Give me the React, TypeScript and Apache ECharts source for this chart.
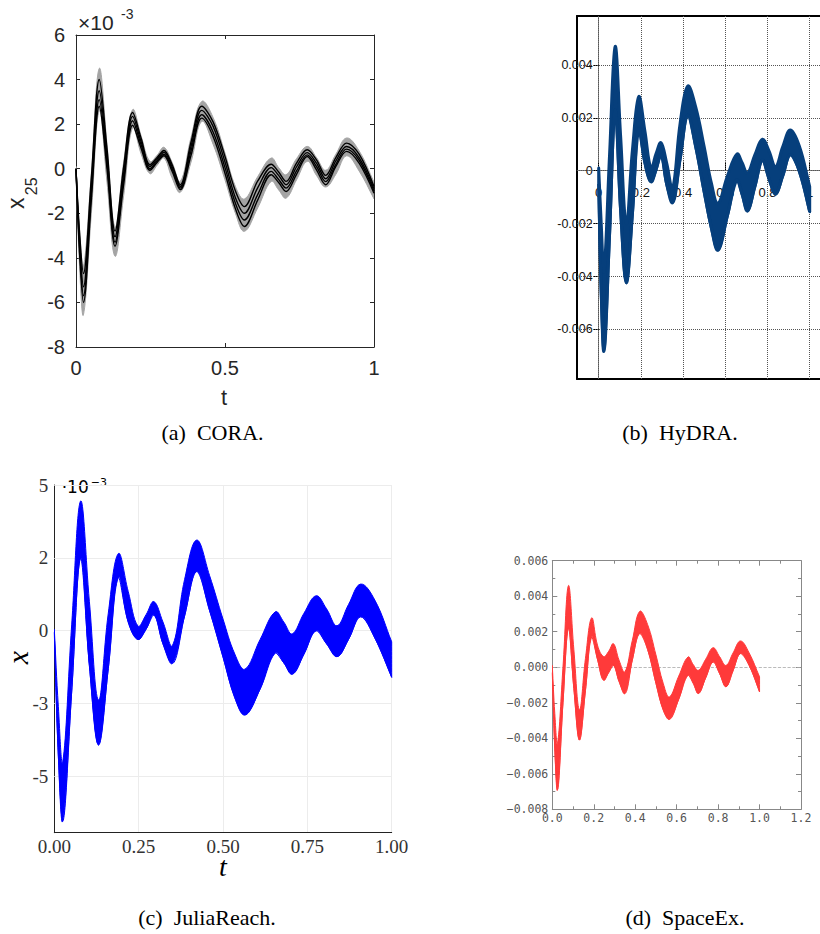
import React, { useEffect, useRef } from "react";
import * as echarts from "echarts";

// time knots shared by the four reach-set plots
const tKnots = [0, 0.012, 0.025, 0.0515, 0.078, 0.104, 0.131, 0.16, 0.19, 0.219, 0.248, 0.272, 0.295, 0.322, 0.35, 0.386, 0.422, 0.46, 0.5, 0.535, 0.565, 0.61, 0.655, 0.68, 0.705, 0.74, 0.776, 0.807, 0.838, 0.872, 0.908, 0.95, 1.0];

// (a) CORA  (values in units of 1e-3)
const coraGrayUpper = [0.1, -2.7, -4.4, -0.2, 4.5, 1.1, -2.6, 0.3, 2.65, 1.45, 0.33, 0.6, 0.96, 0.3, -0.57, 1.4, 3.02, 2.3, 0.7, -0.8, -1.36, -0.35, 0.48, 0.05, -0.27, 0.45, 1.0, 0.5, -0.07, 0.65, 1.38, 0.8, -0.6];
const coraGrayLower = [-0.1, -4.4, -6.55, -2.0, 2.6, -0.6, -3.93, -1.2, 1.85, 0.65, -0.22, 0.15, 0.48, -0.4, -1.06, 0.3, 2.12, 1.1, -0.5, -2.0, -2.81, -1.75, -0.57, -0.95, -1.32, -0.5, 0.33, -0.3, -0.82, -0.25, 0.58, -0.1, -1.35];
const coraTrace1 = [0, -2.9, -4.7, -0.4, 4.0, 0.9, -2.8, 0.1, 2.52, 1.35, 0.18, 0.5, 0.82, 0.2, -0.72, 1.2, 2.8, 2.1, 0.55, -1.0, -1.7, -0.55, 0.2, -0.15, -0.57, 0.25, 0.85, 0.4, -0.3, 0.5, 1.15, 0.65, -0.8];
const coraTrace2 = [0, -3.2, -5.3, -0.8, 3.5, 0.6, -3.05, -0.2, 2.35, 1.2, 0.1, 0.42, 0.74, 0.1, -0.8, 1.0, 2.62, 1.9, 0.3, -1.3, -2.0, -0.85, 0.05, -0.3, -0.72, 0.08, 0.72, 0.25, -0.45, 0.35, 1.0, 0.5, -0.9];
const coraTrace3 = [0, -3.5, -5.7, -1.1, 3.1, 0.3, -3.3, -0.45, 2.15, 1.05, 0.0, 0.35, 0.65, 0.0, -0.87, 0.8, 2.42, 1.65, 0.05, -1.55, -2.3, -1.15, -0.12, -0.48, -0.87, -0.1, 0.62, 0.1, -0.58, 0.2, 0.88, 0.38, -1.0];
const coraTrace4 = [0, -3.8, -6.0, -1.4, 2.8, 0.0, -3.48, -0.7, 1.95, 0.9, -0.07, 0.28, 0.58, -0.1, -0.94, 0.6, 2.27, 1.45, -0.2, -1.8, -2.59, -1.4, -0.27, -0.62, -1.02, -0.25, 0.55, -0.05, -0.72, 0.1, 0.78, 0.25, -1.1];

// (b) HyDRA
const hydraUpper = [0.1, -2.0, -3.8, 0.6, 4.7, 1.3, -2.0, 0.8, 2.8, 1.5, 0.09, 0.65, 1.06, 0.3, -0.67, 1.8, 3.2, 2.4, 0.9, -0.5, -1.24, -0.2, 0.63, 0.3, -0.1, 0.6, 1.19, 0.75, 0.15, 0.9, 1.54, 0.95, -0.6];
const hydraLower = [-0.5, -4.6, -6.8, -2.4, 2.3, -1.5, -4.24, -1.6, 1.6, 0.3, -0.42, 0.05, 0.6, -0.5, -1.2, 0.45, 2.1, 0.9, -0.8, -2.2, -3.0, -1.7, -0.35, -0.9, -1.52, -0.6, 0.4, -0.3, -0.88, -0.2, 0.6, 0.0, -1.55];
const hydraXTicks = [0, 0.2, 0.4, 0.6, 0.8, 1];
const hydraYTicks = [-6, -4, -2, 0, 2, 4];

// (c) JuliaReach
const juliaUpper = [0.05, -2.6, -4.5, 0.2, 4.45, 1.0, -2.38, 0.6, 2.65, 1.35, 0.16, 0.55, 1.0, 0.3, -0.51, 1.75, 3.11, 1.9, 0.4, -0.8, -1.32, -0.3, 0.65, 0.3, -0.11, 0.6, 1.2, 0.75, 0.17, 0.9, 1.6, 1.05, -0.38];
const juliaLower = [-0.05, -4.3, -6.53, -2.1, 2.48, -1.2, -3.92, -1.3, 1.83, 0.3, -0.3, 0.05, 0.54, -0.45, -1.12, 0.5, 2.03, 0.7, -0.9, -2.3, -2.89, -2.0, -0.76, -1.1, -1.49, -0.8, 0.0, -0.45, -0.89, -0.3, 0.48, -0.25, -1.6];
const juliaYTickValues = [-5, -2.5, 0, 2.5, 5];
const juliaYTickLabels = ["-5", "-3", "0", "2", "5"];

// (d) SpaceEx
const spaceexUpper = [0.1, -2.6, -4.3, 0.0, 4.6, 1.0, -2.4, 0.5, 2.78, 1.2, 0.6, 0.9, 1.33, 0.4, -0.26, 1.5, 3.15, 2.4, 0.7, -0.9, -1.67, -0.5, 0.58, 0.15, -0.17, 0.45, 1.1, 0.6, 0.1, 0.8, 1.48, 0.8, -0.54];
const spaceexLower = [-0.3, -4.6, -6.9, -2.0, 2.2, -1.2, -4.1, -1.3, 1.7, 0.4, -0.73, -0.3, 0.1, -0.8, -1.48, 0.4, 1.9, 1.0, -0.9, -2.4, -2.93, -1.8, -0.45, -0.9, -1.48, -0.6, 0.3, -0.35, -1.1, -0.2, 0.77, 0.1, -1.39];

const captions = ["(a)  CORA.", "(b)  HyDRA.", "(c)  JuliaReach.", "(d)  SpaceEx."];

const pts = (v: number[]) => tKnots.map((t, i) => [t, v[i]]);

// filled band between lower and upper, drawn through the axes' scales (api.coord)
function bandFill(id: string, upper: number[], lower: number[], xi: number, yi: number, color: string, strokeW: number) {
  const rows = tKnots.map((t, i) => [t, lower[i], upper[i]]);
  return {
    id,
    type: "custom",
    xAxisIndex: xi,
    yAxisIndex: yi,
    data: rows,
    silent: true,
    clip: true,
    z: 3,
    encode: { x: 0, y: [1, 2] },
    renderItem: (params: any, api: any) => {
      if (params.dataIndex !== 0) return null;
      const top = rows.map((r) => api.coord([r[0], r[2]]));
      const bot = rows.map((r) => api.coord([r[0], r[1]])).reverse();
      const n = top.length;
      const poly = [top[0], ...top, top[n - 1], bot[0], ...bot, bot[n - 1]];
      return {
        type: "polygon",
        shape: { points: poly, smooth: 0.4 },
        style: { fill: color, stroke: color, lineWidth: strokeW, lineJoin: "round" },
      };
    },
  };
}

function edgeLine(id: string, v: number[], xi: number, yi: number, color: string, width: number, extra: any = {}) {
  return {
    id,
    type: "line",
    xAxisIndex: xi,
    yAxisIndex: yi,
    data: pts(v),
    symbol: "none",
    smooth: 0.35,
    silent: true,
    z: 4,
    lineStyle: { color, width },
    itemStyle: { color },
    emphasis: { disabled: true },
    ...extra,
  };
}

const gridMarks = (xs: number[], ys: number[], lineStyle: any) => ({
  silent: true,
  z: 1,
  symbol: ["none", "none"],
  animation: false,
  label: { show: false },
  emphasis: { disabled: true },
  lineStyle,
  data: [...xs.map((v) => ({ xAxis: v })), ...ys.map((v) => ({ yAxis: v }))],
});

const SANS = "Liberation Sans";
const SERIF = "Liberation Serif";
const MATLAB = "#262626";

const coraX = { min: 0, max: 1, interval: 0.5 };
const coraY = { min: -8, max: 6, interval: 2 };
const hydraXRange = { min: -0.1028, max: 1.0488 };
const hydraYRange = { min: -7.875, max: 5.85 };
const juliaXRange = { min: 0, max: 1, interval: 0.25 };
const juliaYRange = { min: -6.93, max: 5 };
const spaceexX = { min: 0, max: 1.2, interval: 0.2 };
const spaceexY = { min: -8, max: 6, interval: 2 };

// grid boxes (layout)
const coraBox = { left: 76, top: 35, width: 298, height: 312 };
const hydraBox = { left: 577, top: 16, width: 243, height: 363 };
const juliaBox = { left: 54.3, top: 485, width: 337.4, height: 347.7 };
const spaceexBox = { left: 552.3, top: 560.7, width: 248.7, height: 248.6 };

// HyDRA axes cross at (0,0) inside the frame
const hydraZeroY = hydraBox.top + (hydraYRange.max / (hydraYRange.max - hydraYRange.min)) * hydraBox.height;
const hydraZeroX = hydraBox.left + (-hydraXRange.min / (hydraXRange.max - hydraXRange.min)) * hydraBox.width;

function frameAxis(gridIndex: number, range: any, position: string, color: string, width: number, ticks: any = null) {
  return {
    gridIndex,
    type: "value",
    ...range,
    position,
    axisLine: { show: true, onZero: false, lineStyle: { color, width } },
    axisTick: ticks ? ticks : { show: false },
    minorTick: ticks && ticks.minor ? ticks.minor : { show: false },
    axisLabel: { show: false },
    splitLine: { show: false },
  };
}

export default function App() {
  const ref = useRef<HTMLDivElement>(null);

  useEffect(() => {
    if (!ref.current) return;
    const chart = echarts.init(ref.current, undefined, { renderer: "svg" });

    const matlabTicks = { show: true, inside: true, length: 4, lineStyle: { color: MATLAB } };
    const sxMinor = { show: true, splitNumber: 2, length: 3, lineStyle: { color: "#888" } };
    const sxTicks: any = { show: true, inside: true, length: 5, lineStyle: { color: "#888" }, minor: sxMinor };

    const spaceexYFmt = (v: number) =>
      v === 0 ? "0.000" : (v < 0 ? "\u2212" : "") + Math.abs(v / 1000).toFixed(3);
    const hydraFont = "'Liberation Sans Narrow', 'Liberation Sans', sans-serif";

    const option: any = {
      animation: false,
      grid: [
        { ...coraBox, outerBoundsMode: "none" },
        { ...hydraBox, outerBoundsMode: "none" },
        { ...juliaBox, outerBoundsMode: "none" },
        { ...spaceexBox, outerBoundsMode: "none" },
      ],
      xAxis: [
        // 0: CORA bottom
        {
          gridIndex: 0, type: "value", ...coraX, position: "bottom",
          axisLine: { onZero: false, lineStyle: { color: MATLAB, width: 1 } },
          axisTick: matlabTicks,
          axisLabel: { fontFamily: SANS, fontSize: 20, color: MATLAB, margin: 11 },
          splitLine: { show: false },
        },
        // 1: CORA top
        frameAxis(0, coraX, "top", MATLAB, 1, matlabTicks),
        // 2: HyDRA axis through y = 0
        {
          gridIndex: 1, type: "value", ...hydraXRange, position: "bottom",
          offset: -(hydraBox.top + hydraBox.height - hydraZeroY),
          axisLine: { onZero: false, lineStyle: { color: "#333", width: 1, type: "dotted" } },
          axisTick: { show: true, inside: true, length: 9, customValues: hydraXTicks, lineStyle: { color: "#000" } },
          axisLabel: {
            customValues: hydraXTicks,
            formatter: (v: number) => (v === 0 ? "0" : v === 1 ? "1" : v.toFixed(1)),
            fontFamily: hydraFont, fontSize: 13, color: "#111", margin: 15,
          },
          splitLine: { show: false },
        },
        // 3,4: HyDRA frame
        frameAxis(1, hydraXRange, "bottom", "#000", 2),
        frameAxis(1, hydraXRange, "top", "#000", 2),
        // 5: Julia
        {
          gridIndex: 2, type: "value", ...juliaXRange, position: "bottom",
          axisLine: { onZero: false, lineStyle: { color: "#222", width: 1 } },
          axisTick: { show: false },
          axisLabel: { formatter: (v: number) => v.toFixed(2), fontFamily: SERIF, fontSize: 19, color: "#333", margin: 4.5 },
          splitLine: { show: true, lineStyle: { color: "#ececec", width: 1 } },
        },
        // 6: SpaceEx bottom
        {
          gridIndex: 3, type: "value", ...spaceexX, position: "bottom",
          axisLine: { onZero: false, lineStyle: { color: "#888", width: 1 } },
          axisTick: { show: true, inside: true, length: 5, lineStyle: { color: "#888" } },
          minorTick: sxMinor,
          axisLabel: { formatter: (v: number) => v.toFixed(1), fontFamily: "DejaVu Sans Mono", fontSize: 11.5, color: "#555", margin: 3 },
          splitLine: { show: false },
        },
        // 7: SpaceEx top
        frameAxis(3, spaceexX, "top", "#888", 1, sxTicks),
      ],
      yAxis: [
        // 0: CORA left
        {
          gridIndex: 0, type: "value", ...coraY, position: "left",
          axisLine: { onZero: false, lineStyle: { color: MATLAB, width: 1 } },
          axisTick: matlabTicks,
          axisLabel: { fontFamily: SANS, fontSize: 20, color: MATLAB, margin: 11 },
          splitLine: { show: false },
        },
        // 1: CORA right
        frameAxis(0, coraY, "right", MATLAB, 1, matlabTicks),
        // 2: HyDRA axis through t = 0
        {
          gridIndex: 1, type: "value", ...hydraYRange, position: "left",
          offset: -(hydraZeroX - hydraBox.left),
          axisLine: { onZero: false, lineStyle: { color: "#333", width: 1, type: "dotted" } },
          axisTick: { show: true, inside: false, length: 5, customValues: hydraYTicks, lineStyle: { color: "#000" } },
          axisLabel: {
            customValues: hydraYTicks,
            formatter: (v: number) => (v === 0 ? "0" : (v / 1000).toFixed(3)),
            fontFamily: hydraFont, fontSize: 12.5, color: "#111", margin: 6,
          },
          splitLine: { show: false },
        },
        // 3: HyDRA frame left
        frameAxis(1, hydraYRange, "left", "#000", 2),
        // 4: Julia
        {
          gridIndex: 2, type: "value", ...juliaYRange, position: "left",
          axisLine: { onZero: false, lineStyle: { color: "#222", width: 1 } },
          axisTick: { show: false },
          axisLabel: {
            customValues: juliaYTickValues,
            formatter: (v: number) => {
              const i = juliaYTickValues.indexOf(v);
              return i >= 0 ? juliaYTickLabels[i] : "";
            },
            fontFamily: SERIF, fontSize: 19, color: "#333", margin: 6,
          },
          splitLine: { show: false },
        },
        // 5: SpaceEx left
        {
          gridIndex: 3, type: "value", ...spaceexY, position: "left",
          axisLine: { onZero: false, lineStyle: { color: "#888", width: 1 } },
          axisTick: { show: true, inside: true, length: 5, lineStyle: { color: "#888" } },
          minorTick: sxMinor,
          axisLabel: { formatter: spaceexYFmt, fontFamily: "DejaVu Sans Mono", fontSize: 11.5, color: "#555", margin: 4 },
          splitLine: { show: false },
        },
        // 6: SpaceEx right
        frameAxis(3, spaceexY, "right", "#888", 1, sxTicks),
      ],
      series: [
        // (a) CORA
        bandFill("cora-band", coraGrayUpper, coraGrayLower, 0, 0, "#a4a4a4", 1),
        edgeLine("cora-t1", coraTrace1, 0, 0, "#000", 1.4),
        edgeLine("cora-t2", coraTrace2, 0, 0, "#000", 1.4),
        edgeLine("cora-t3", coraTrace3, 0, 0, "#000", 1.4),
        edgeLine("cora-t4", coraTrace4, 0, 0, "#000", 1.4),
        // (b) HyDRA
        bandFill("hydra-band", hydraUpper, hydraLower, 2, 2, "#063f7c", 3),
        edgeLine("hydra-lower", hydraLower, 2, 2, "#063f7c", 3, {
          markLine: gridMarks(hydraXTicks, hydraYTicks, { type: "dotted", color: "#555", width: 1 }),
        }),
        // (c) JuliaReach
        bandFill("julia-band", juliaUpper, juliaLower, 5, 4, "#0000ff", 1),
        edgeLine("julia-lower", juliaLower, 5, 4, "#0000ff", 1, {
          markLine: gridMarks([], juliaYTickValues, { type: "solid", color: "#ececec", width: 1 }),
        }),
        // (d) SpaceEx
        bandFill("spaceex-band", spaceexUpper, spaceexLower, 6, 5, "#ff3a3a", 1),
        edgeLine("spaceex-lower", spaceexLower, 6, 5, "#ff3a3a", 1, {
          markLine: gridMarks([], [0], { type: "dashed", color: "#aaa", width: 0.8 }),
        }),
      ],
      graphic: [
        // CORA labels
        { type: "text", x: 224, y: 397.5, style: { text: "t", fontFamily: SANS, fontSize: 22, fill: MATLAB, align: "center", verticalAlign: "middle" } },
        { type: "text", x: 78, y: 22.5, style: { text: "\u00d710", fontFamily: SANS, fontSize: 21, fill: MATLAB, align: "left", verticalAlign: "middle" } },
        { type: "text", x: 121, y: 14, style: { text: "-3", fontFamily: SANS, fontSize: 14, fill: MATLAB, align: "left", verticalAlign: "middle" } },
        {
          type: "group", x: 16.3, y: 203.3, rotation: Math.PI / 2,
          children: [
            { type: "text", x: 0, y: 0, style: { text: "x", fontFamily: SANS, fontSize: 23, fill: MATLAB, align: "center", verticalAlign: "middle" } },
            { type: "text", x: 17, y: 15.4, style: { text: "25", fontFamily: SANS, fontSize: 16, fill: MATLAB, align: "center", verticalAlign: "middle" } },
          ],
        },
        // Julia labels
        { type: "text", x: 223, y: 866, style: { text: "t", fontFamily: SERIF, fontStyle: "italic", fontSize: 28, fill: "#000", align: "center", verticalAlign: "middle" } },
        {
          type: "group", x: 17, y: 657.5, rotation: Math.PI / 2,
          children: [
            { type: "text", x: 0, y: 0, style: { text: "x", fontFamily: SERIF, fontStyle: "italic", fontSize: 30, lineHeight: 24, fill: "#000", align: "center", verticalAlign: "middle" } },
          ],
        },
        { type: "text", x: 61.7, y: 486.5, style: { text: "\u00b710", fontFamily: "DejaVu Sans", fontSize: 17, fill: "#000", align: "left", verticalAlign: "middle" } },
        { type: "text", x: 90.7, y: 482, style: { text: "\u22123", fontFamily: "DejaVu Sans", fontSize: 11, fill: "#000", align: "left", verticalAlign: "middle" } },
        // captions
        { type: "text", x: 212.5, y: 432, style: { text: captions[0], fontFamily: SERIF, fontSize: 22, fill: "#000", align: "center", verticalAlign: "middle" } },
        { type: "text", x: 680, y: 432, style: { text: captions[1], fontFamily: SERIF, fontSize: 22, fill: "#000", align: "center", verticalAlign: "middle" } },
        { type: "text", x: 207, y: 917, style: { text: captions[2], fontFamily: SERIF, fontSize: 22, fill: "#000", align: "center", verticalAlign: "middle" } },
        { type: "text", x: 685, y: 917, style: { text: captions[3], fontFamily: SERIF, fontSize: 22, fill: "#000", align: "center", verticalAlign: "middle" } },
      ],
    };

    chart.setOption(option);
    return () => chart.dispose();
  }, []);

  return (
    <div
      ref={ref}
      style={{ position: "fixed", left: 0, top: 0, width: 820, height: 934, background: "#fff" }}
    />
  );
}
